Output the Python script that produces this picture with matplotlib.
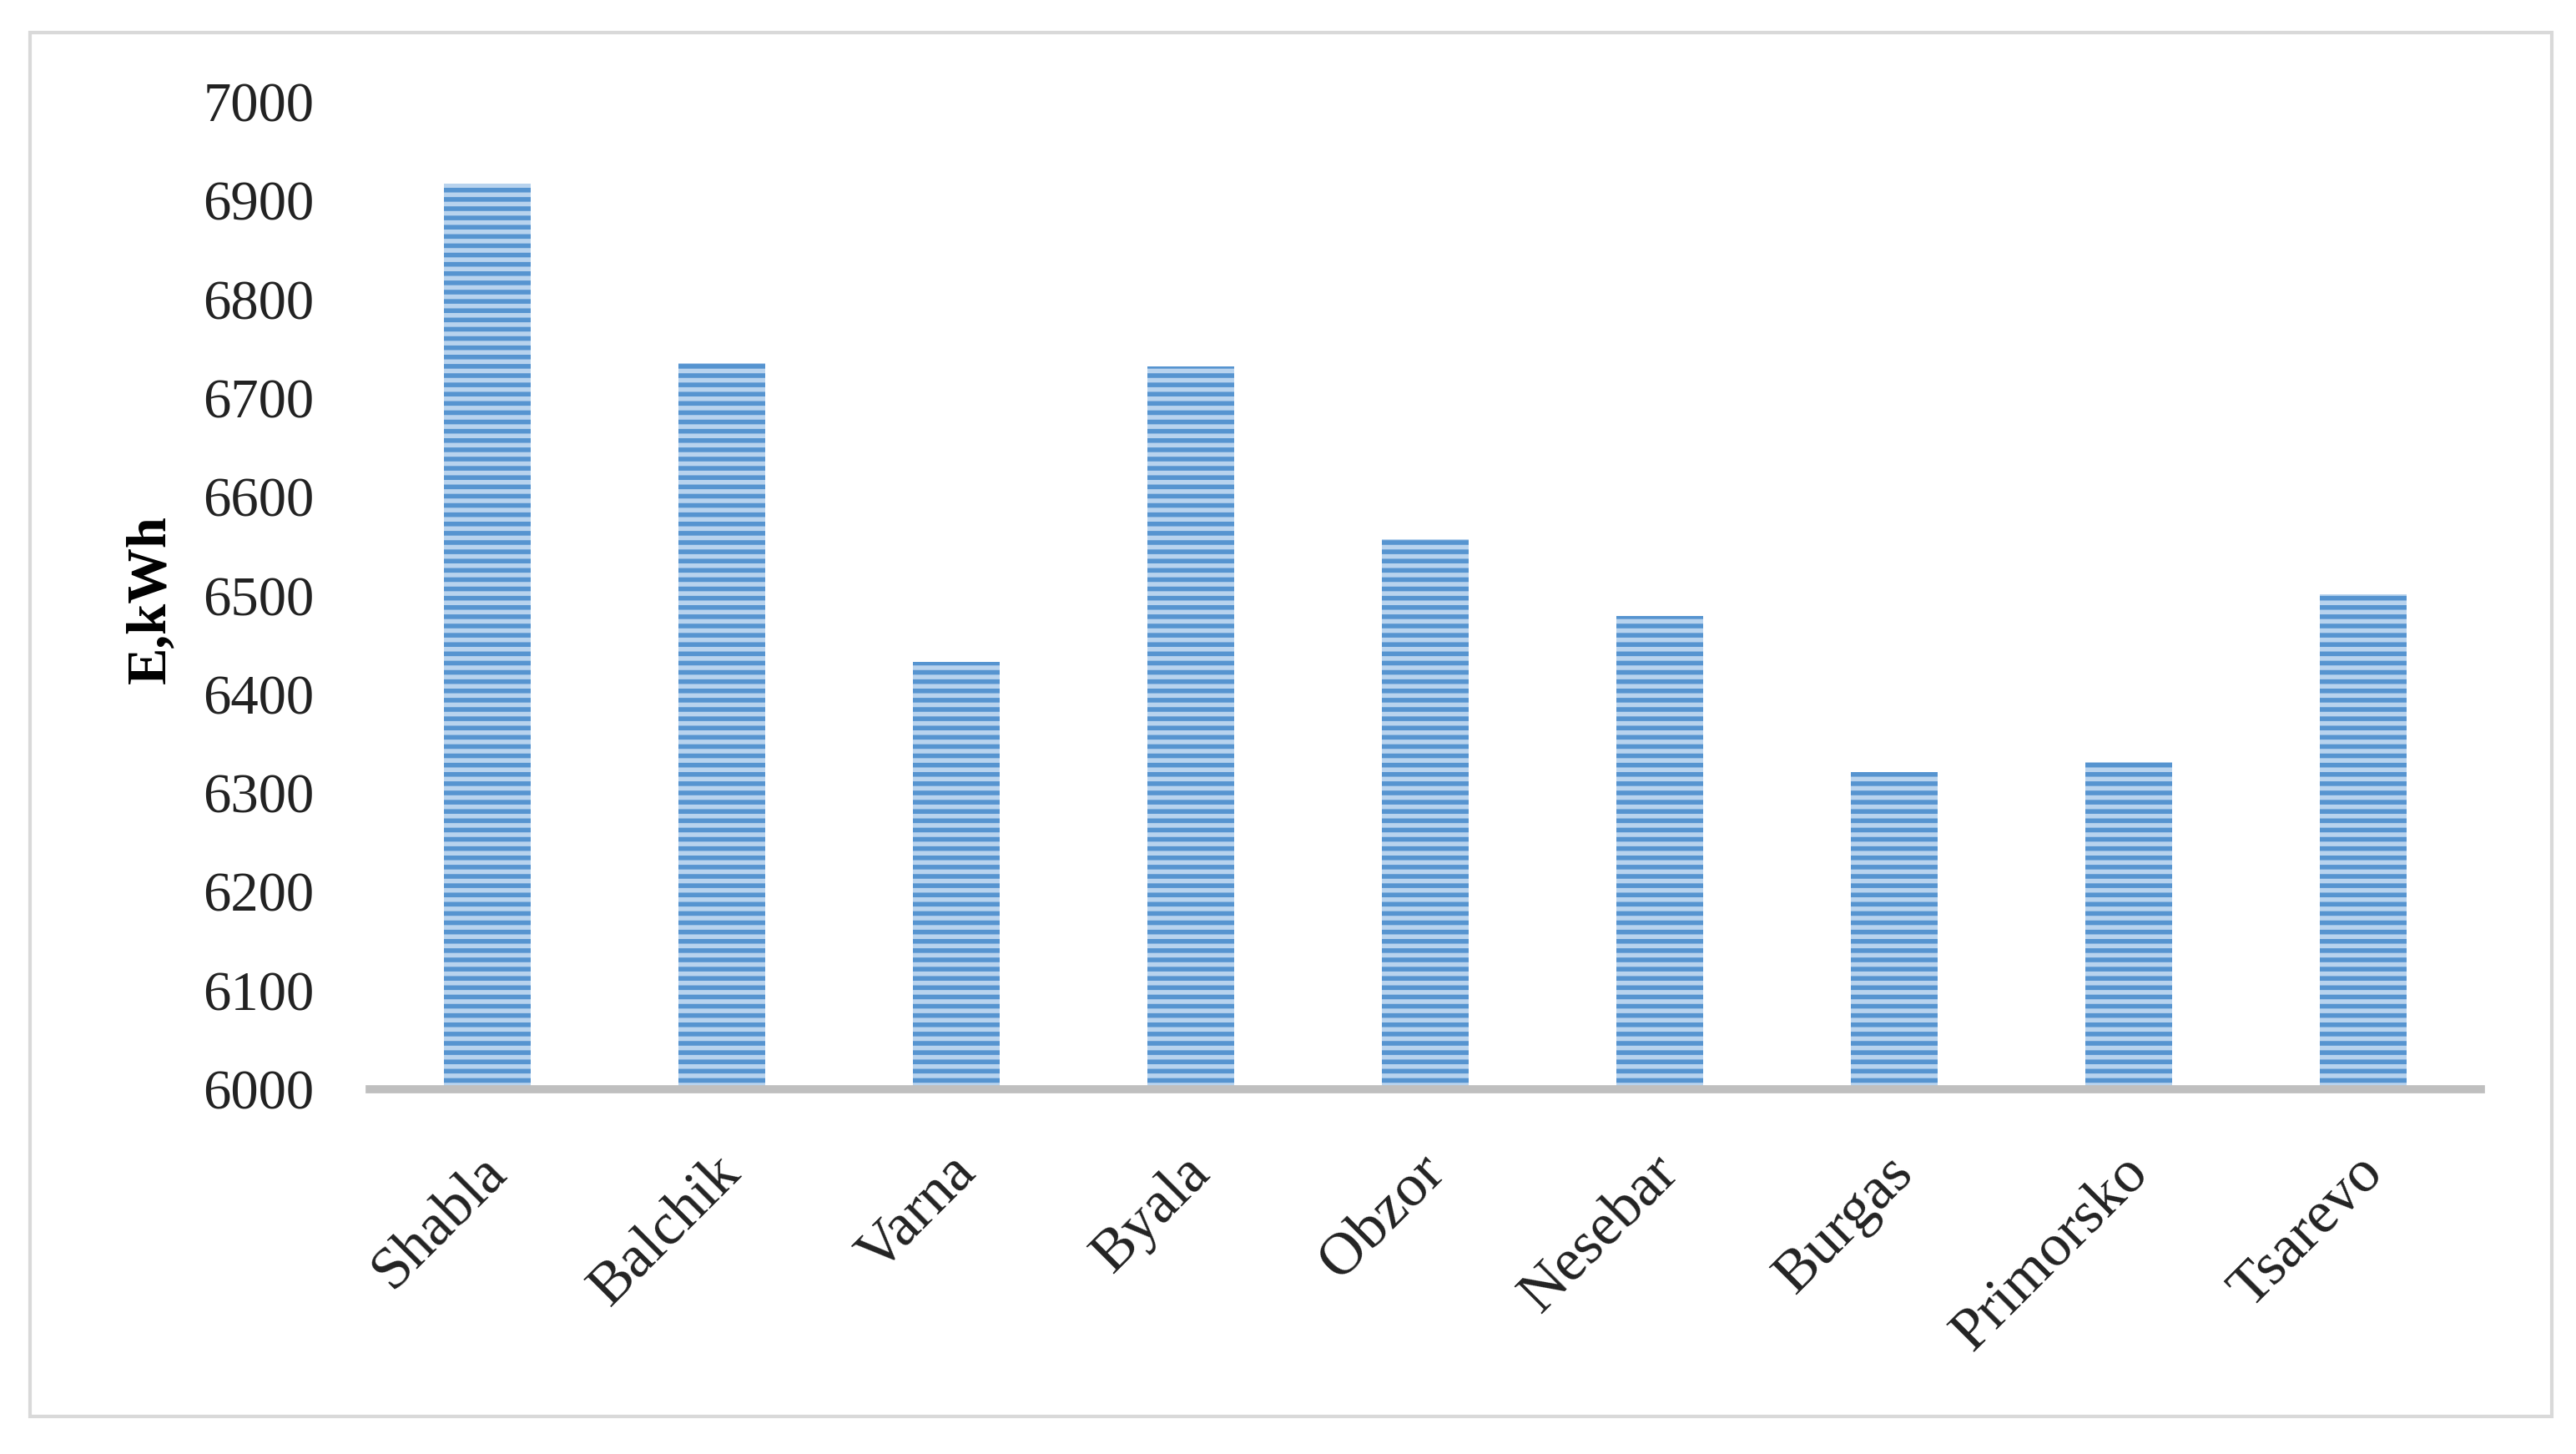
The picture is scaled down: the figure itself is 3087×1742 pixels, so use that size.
import matplotlib.pyplot as plt
from matplotlib.patches import Rectangle
from matplotlib.transforms import ScaledTranslation

# Annual energy yield per site
towns = ['Shabla', 'Balchik', 'Varna', 'Byala', 'Obzor',
         'Nesebar', 'Burgas', 'Primorsko', 'Tsarevo']
energy = [6917, 6735, 6433, 6732, 6557, 6479, 6321, 6331, 6501]
yticks = [6000, 6100, 6200, 6300, 6400, 6500, 6600, 6700, 6800, 6900, 7000]

plt.rcParams['font.family'] = ['Liberation Serif', 'DejaVu Serif']
plt.rcParams['hatch.linewidth'] = 2.0

fig = plt.figure(figsize=(15.435, 8.71), dpi=200)
ax = fig.add_axes([0.1435, 0.2508, 0.8195, 0.6792])

ax.bar(range(len(towns)), energy, width=0.37, bottom=0,
       color='#b8d3ee', edgecolor='#5694d0', hatch='---', linewidth=0)

ax.set_xlim(-0.5, len(towns) - 0.5)
ax.set_ylim(6000, 7000)
ax.set_yticks(yticks)
ax.set_yticklabels([str(v) for v in yticks], fontsize=24, color='#222222')
ax.set_xticks(range(len(towns)))
ax.set_xticklabels(towns, rotation=45, ha='right', rotation_mode='anchor',
                   fontsize=26, color='#222222')
ax.tick_params(axis='both', length=0)
ax.tick_params(axis='x', pad=24)
ax.tick_params(axis='y', pad=24)

# nudge x labels a little to the left
shift = ScaledTranslation(-0.05, 0, fig.dpi_scale_trans)
for lbl in ax.get_xticklabels():
    lbl.set_transform(lbl.get_transform() + shift)

for s in ['top', 'right', 'left']:
    ax.spines[s].set_visible(False)
ax.spines['bottom'].set_color('#bfbfbf')
ax.spines['bottom'].set_linewidth(3.5)
ax.spines['bottom'].set_zorder(5)

fig.text(0.0587, 0.588, 'E,kWh', rotation=90, fontsize=24, fontweight='bold',
         ha='center', va='center')

# outer chart frame
fig.patches.append(Rectangle((0.0115, 0.026), 0.979, 0.9514, transform=fig.transFigure,
                             fill=False, edgecolor='#d9d9d9', linewidth=1.5))

fig.savefig('out.png', dpi=200, facecolor='white')
